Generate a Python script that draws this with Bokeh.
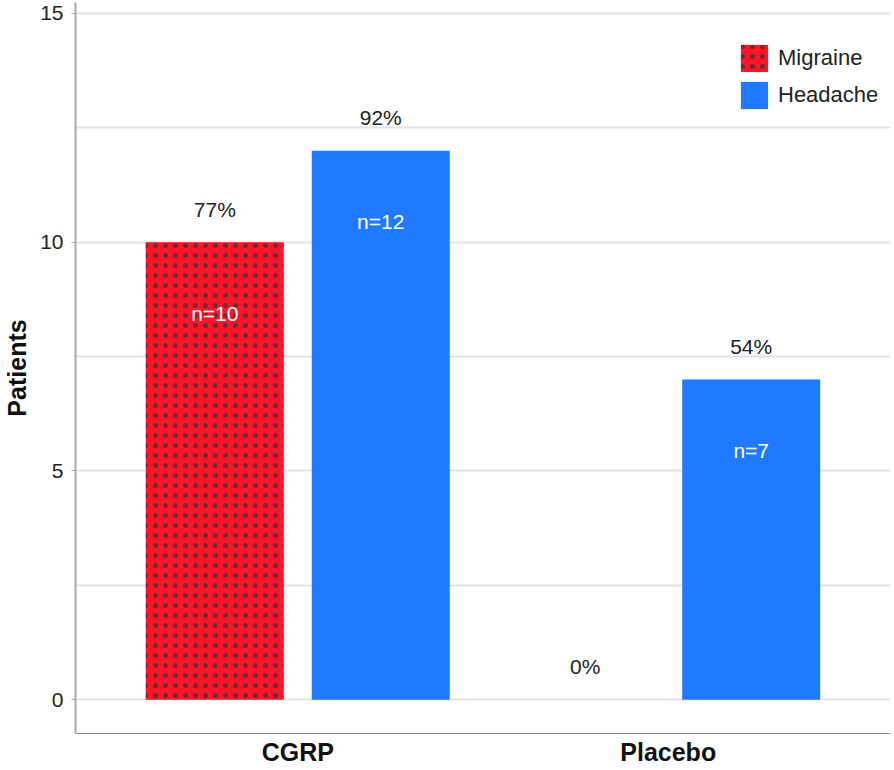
from bokeh.plotting import figure
from bokeh.models import ColumnDataSource, FactorRange, Range1d, FixedTicker
from bokeh.transform import dodge
from bokeh.core.properties import value
from bokeh.embed import file_html
from bokeh.resources import INLINE

# ---- data ----
groups = ["CGRP", "Placebo"]
series = ["Migraine", "Headache"]
migraine_counts = [10, 0]
headache_counts = [12, 7]
migraine_pct = ["77%", "0%"]
headache_pct = ["92%", "54%"]
y_ticks = [0, 5, 10, 15]
grid_ticks = [0, 2.5, 5, 7.5, 10, 12.5, 15]

FONT = "Liberation Sans"
RED = "#FF1529"
BLUE = "#1F7AFF"

def n_labels(counts):
    return ["n=%d" % c if c > 0 else "" for c in counts]

src_m = ColumnDataSource(dict(grp=groups, val=migraine_counts, pct=migraine_pct, n=n_labels(migraine_counts)))
src_h = ColumnDataSource(dict(grp=groups, val=headache_counts, pct=headache_pct, n=n_labels(headache_counts)))

p = figure(width=892, height=768, output_backend="svg", toolbar_location=None,
           x_range=FactorRange(*groups, range_padding=0.1),
           y_range=Range1d(-0.74, 15.24),
           min_border_left=75, min_border_right=2, min_border_top=2, min_border_bottom=33)
p.outline_line_color = None
p.background_fill_color = "white"

OFF = 0.224
W = 0.3725

rm = p.vbar(x=dodge("grp", -OFF, range=p.x_range), top="val", bottom=0, width=W, source=src_m,
            fill_color=RED, line_color=None, legend_label="Migraine",
            hatch_pattern="dot", hatch_color="#0d3b3b", hatch_scale=10, hatch_weight=0.2, hatch_alpha=0.6)
rh = p.vbar(x=dodge("grp", OFF, range=p.x_range), top="val", bottom=0, width=W, source=src_h,
            fill_color=BLUE, line_color=None, legend_label="Headache")

for src, off in ((src_m, -OFF), (src_h, OFF)):
    p.text(x=dodge("grp", off, range=p.x_range), y="val", text="pct", source=src,
           y_offset=-33, text_align="center", text_baseline="middle",
           text_font=value(FONT), text_font_size="21px", text_color="#222222")
    p.text(x=dodge("grp", off, range=p.x_range), y="val", text="n", source=src,
           y_offset=71, text_align="center", text_baseline="middle",
           text_font=value(FONT), text_font_size="21px", text_color="white")

legend = p.legend[0]
legend.location = (662, 621)
legend.orientation = "vertical"
legend.glyph_width = 34
legend.glyph_height = 34
legend.spacing = 3
legend.padding = 0
legend.margin = 0
legend.label_standoff = 7
legend.label_text_font = FONT
legend.label_text_font_size = "22px"
legend.label_text_color = "#222222"
legend.border_line_color = None
legend.background_fill_alpha = 0

# y axis
p.yaxis.ticker = FixedTicker(ticks=y_ticks)
p.yaxis.axis_label = "Patients"
p.yaxis.axis_label_text_font = FONT
p.yaxis.axis_label_text_font_size = "25px"
p.yaxis.axis_label_text_font_style = "bold"
p.yaxis.axis_label_text_color = "#111111"
p.yaxis.axis_label_standoff = 6
p.yaxis.major_label_text_font = FONT
p.yaxis.major_label_text_font_size = "21px"
p.yaxis.major_label_text_color = "#222222"
p.yaxis.major_label_standoff = 8
p.yaxis.axis_line_color = "#a8a8a8"
p.yaxis.axis_line_width = 2
p.yaxis.major_tick_line_color = "#a8a8a8"
p.yaxis.major_tick_out = 4
p.yaxis.major_tick_in = 0
p.yaxis.minor_tick_line_color = None

# x axis
p.xaxis.major_label_text_font = FONT
p.xaxis.major_label_text_font_size = "25px"
p.xaxis.major_label_text_font_style = "bold"
p.xaxis.major_label_text_color = "#111111"
p.xaxis.major_label_standoff = 4
p.xaxis.axis_label_standoff = 0
p.xaxis.axis_line_color = "#8a8a8a"
p.xaxis.axis_line_width = 1
p.xaxis.major_tick_line_color = None
p.xaxis.major_tick_out = 0
p.xaxis.major_tick_in = 0
p.xaxis.minor_tick_line_color = None

# grid
p.xgrid.grid_line_color = None
p.ygrid.ticker = FixedTicker(ticks=grid_ticks)
p.ygrid.grid_line_color = "#e3e3e3"
p.ygrid.grid_line_width = 2

open("out.html", "w").write(file_html(p, INLINE))
